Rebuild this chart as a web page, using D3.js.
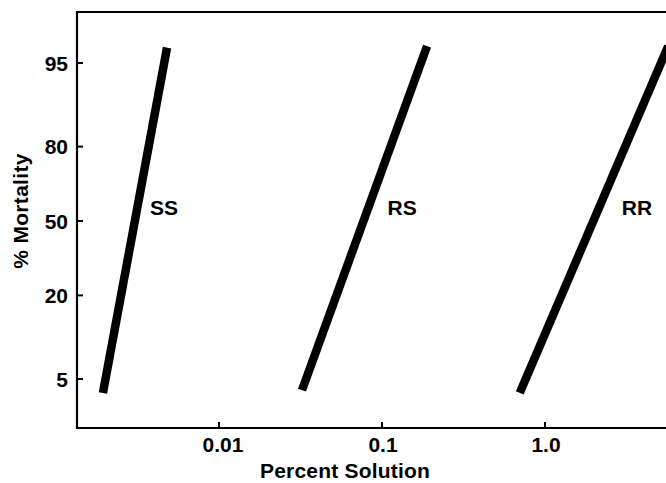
<!DOCTYPE html>
<html>
<head>
<meta charset="utf-8">
<script src="https://cdn.jsdelivr.net/npm/d3@7"></script>
<style>
  body { margin: 0; background: #fff; }
  text { font-family: "Liberation Sans", Arial, sans-serif; font-weight: bold; fill: #000; }
</style>
</head>
<body>
<div id="chart"></div>
<script>
// Data________________________________________________________________
const strains = ['SS', 'RS', 'RR'];
// each line: [percent solution, % mortality] at its two ends
const ssLine = [[0.00194, 3.9], [0.0048, 96.2]];
const rsLine = [[0.0323, 4.1], [0.189, 96.3]];
const rrLine = [[0.70, 3.9], [5.7, 96.3]];
const labelPoints = [[0.0046, 50], [0.133, 50], [3.67, 50]];
const xTicks = [0.01, 0.1, 1.0];
const xTickLabels = ['0.01', '0.1', '1.0'];
const yTicks = [5, 20, 50, 80, 95];

// Variables___________________________________________________________
const width = 666;
const height = 483;
const logit = p => Math.log((p / 100) / (1 - p / 100));

const x = d3.scaleLog()
    .domain([0.01, 1])
    .range([219, 545]);
const yLin = d3.scaleLinear()
    .domain([logit(5), logit(95)])
    .range([379, 63]);
const y = p => yLin(logit(p));

const frameLeft = 77, frameTop = 12, frameBottom = 428;

const svg = d3.select('#chart')
    .append('svg')
    .attr('width', width)
    .attr('height', height);

// Frame and axes______________________________________________________
svg.append('path')
    .attr('d', `M${width + 5},${frameTop} H${frameLeft} V${frameBottom} H${width + 5}`)
    .attr('fill', 'none')
    .attr('stroke', '#000')
    .attr('stroke-width', 2.2);

// y ticks
svg.append('g')
    .selectAll('line')
    .data(yTicks)
    .enter()
    .append('line')
    .attr('x1', frameLeft)
    .attr('x2', frameLeft + 6)
    .attr('y1', d => y(d))
    .attr('y2', d => y(d))
    .attr('stroke', '#000')
    .attr('stroke-width', 2);
svg.append('g')
    .selectAll('text')
    .data(yTicks)
    .enter()
    .append('text')
    .attr('x', 68)
    .attr('y', d => y(d) + 7.5)
    .attr('text-anchor', 'end')
    .style('font-size', '21px')
    .text(d => d);

// x ticks
svg.append('g')
    .selectAll('line')
    .data(xTicks)
    .enter()
    .append('line')
    .attr('x1', d => x(d))
    .attr('x2', d => x(d))
    .attr('y1', frameBottom)
    .attr('y2', frameBottom - 6)
    .attr('stroke', '#000')
    .attr('stroke-width', 2);
svg.append('g')
    .selectAll('text')
    .data(xTicks)
    .enter()
    .append('text')
    .attr('x', (d, i) => x(d) + (i === 0 ? 4 : 1))
    .attr('y', 452)
    .attr('text-anchor', 'middle')
    .style('font-size', '21px')
    .text((d, i) => xTickLabels[i]);

// Axis titles
svg.append('text')
    .attr('x', 345)
    .attr('y', 478)
    .attr('text-anchor', 'middle')
    .style('font-size', '21px')
    .style('letter-spacing', '0.2px')
    .text('Percent Solution');
svg.append('text')
    .attr('transform', 'translate(28,211) rotate(-90)')
    .attr('text-anchor', 'middle')
    .style('font-size', '21px')
    .style('letter-spacing', '0.3px')
    .text('% Mortality');

// Lines_______________________________________________________________
const line = d3.line()
    .x(d => x(d[0]))
    .y(d => y(d[1]));
svg.append('g')
    .selectAll('path')
    .data([ssLine, rsLine, rrLine])
    .enter()
    .append('path')
    .attr('d', line)
    .attr('fill', 'none')
    .attr('stroke', '#000')
    .attr('stroke-width', 8.5);

svg.append('g')
    .selectAll('text')
    .data(strains)
    .enter()
    .append('text')
    .attr('x', (d, i) => x(labelPoints[i][0]))
    .attr('y', (d, i) => y(labelPoints[i][1]) - 6)
    .attr('text-anchor', 'middle')
    .style('font-size', '21px')
    .text(d => d);
</script>
</body>
</html>
